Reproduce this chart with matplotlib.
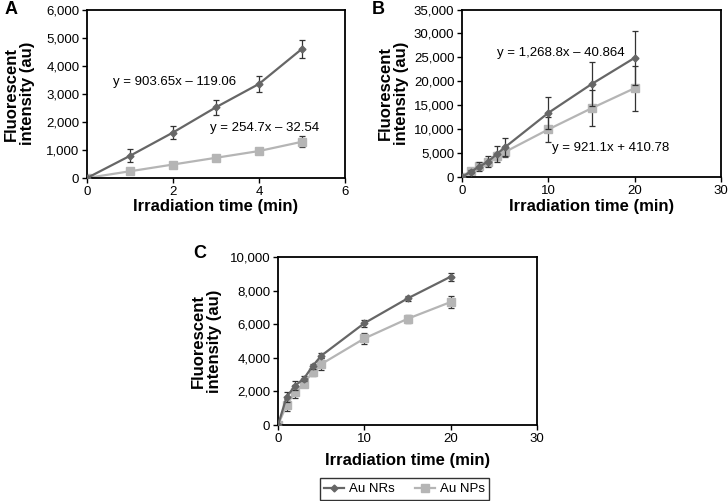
import matplotlib
matplotlib.use("Agg")
import matplotlib.pyplot as plt
from matplotlib.ticker import FuncFormatter
from matplotlib.lines import Line2D

plt.rcParams["font.family"] = ["Liberation Sans", "DejaVu Sans"]

# Panel A: 0-5 min
x_a = [0, 1, 2, 3, 4, 5]
nr_a = [0, 790, 1620, 2520, 3350, 4600]
nr_a_err = [0, 230, 220, 270, 270, 310]
np_a = [0, 240, 480, 720, 960, 1290]
np_a_err = [0, 40, 60, 80, 110, 190]

# Panel B: 0-20 min
x_b = [0, 1, 2, 3, 4, 5, 10, 15, 20]
nr_b = [0, 1100, 2150, 3200, 4750, 6250, 13400, 19400, 24900]
nr_b_err = [0, 300, 900, 1100, 1700, 1800, 3300, 4600, 5600]
np_b = [0, 1300, 2300, 3100, 4400, 5250, 9940, 14360, 18560]
np_b_err = [0, 200, 400, 600, 900, 1100, 2700, 3800, 4700]

# Panel C: 0-20 min
x_c = [0, 1, 2, 3, 4, 5, 10, 15, 20]
nr_c = [0, 1670, 2350, 2760, 3500, 4120, 6060, 7530, 8830]
nr_c_err = [0, 300, 250, 150, 150, 150, 200, 120, 240]
np_c = [0, 1190, 1990, 2470, 3140, 3620, 5150, 6320, 7320]
np_c_err = [0, 360, 400, 200, 200, 350, 300, 250, 340]

NR_COLOR = "#666666"
NP_COLOR = "#b5b5b5"
ERR_COLOR = "#333333"

W, H = 728, 501
fig = plt.figure(figsize=(W / 100, H / 100), dpi=100)


def axes_px(left, right, top, bottom):
    return fig.add_axes([left / W, 1 - bottom / H, (right - left) / W, (bottom - top) / H])


def draw(ax, x, nr, nr_err, np_, np_err, xmax, xstep, ymax, ystep, ylab_x, xlab_y):
    ax.errorbar(x, nr, yerr=nr_err, color=NR_COLOR, marker="D", markersize=3.5,
                lw=1.6, ecolor=ERR_COLOR, elinewidth=0.9, capsize=2.5, capthick=0.9, zorder=3)
    ax.errorbar(x, np_, yerr=np_err, color=NP_COLOR, marker="s", markersize=5.5,
                lw=1.6, ecolor=ERR_COLOR, elinewidth=0.9, capsize=2.5, capthick=0.9, zorder=2)
    ax.set_xlim(0, xmax)
    ax.set_ylim(0, ymax)
    ax.set_xticks(range(0, xmax + 1, xstep))
    ax.set_yticks(range(0, ymax + 1, ystep))
    ax.yaxis.set_major_formatter(FuncFormatter(lambda v, p: f"{int(v):,}"))
    ax.tick_params(direction="out", length=3.5, width=1, labelsize=9.5, pad=2, color="black")
    for s in ax.spines.values():
        s.set_linewidth(1.3)
        s.set_color("black")
    ax.set_xlabel("Irradiation time (min)", fontsize=12, fontweight="bold")
    ax.set_ylabel("Fluorescent\nintensity (au)", fontsize=12, fontweight="bold",
                  linespacing=1.1)
    ax.xaxis.set_label_coords(0.5, xlab_y)
    ax.yaxis.set_label_coords(ylab_x, 0.5)


ax_a = axes_px(87, 345, 9.5, 178)
draw(ax_a, x_a, nr_a, nr_a_err, np_a, np_a_err, 6, 2, 6000, 1000, -0.20, -0.125)
ax_a.text(0.6, 3420, "y = 903.65x – 119.06", fontsize=9.5, va="center", ha="left")
ax_a.text(2.86, 1780, "y = 254.7x – 32.54", fontsize=9.5, va="center", ha="left")

ax_b = axes_px(462, 721, 9.5, 177)
draw(ax_b, x_b, nr_b, nr_b_err, np_b, np_b_err, 30, 10, 35000, 5000, -0.205, -0.13)
ax_b.text(4.05, 25900, "y = 1,268.8x – 40.864", fontsize=9.5, va="center", ha="left")
ax_b.text(10.4, 6060, "y = 921.1x + 410.78", fontsize=9.5, va="center", ha="left")

ax_c = axes_px(278, 537, 257, 425)
draw(ax_c, x_c, nr_c, nr_c_err, np_c, np_c_err, 30, 10, 10000, 2000, -0.216, -0.165)

fig.text(5 / W, 1 - 9 / H, "A", fontsize=13, fontweight="bold", va="center", ha="left")
fig.text(372 / W, 1 - 9 / H, "B", fontsize=13, fontweight="bold", va="center", ha="left")
fig.text(193 / W, 1 - 254 / H, "C", fontsize=13, fontweight="bold", va="center", ha="left")

handles = [
    Line2D([], [], color=NR_COLOR, marker="D", markersize=3.5, lw=1.6),
    Line2D([], [], color=NP_COLOR, marker="s", markersize=5.5, lw=1.6),
]
leg = fig.legend(handles, ["Au NRs", "Au NPs"], loc="center",
                 bbox_to_anchor=(404.5 / W, 1 - 489 / H), ncol=2, fontsize=9.5,
                 frameon=True, fancybox=False, handlelength=1.5, columnspacing=1.5,
                 handletextpad=0.4, borderpad=0.35, borderaxespad=0, edgecolor="black")
leg.get_frame().set_linewidth(1.0)

fig.savefig("out.png", dpi=100)
